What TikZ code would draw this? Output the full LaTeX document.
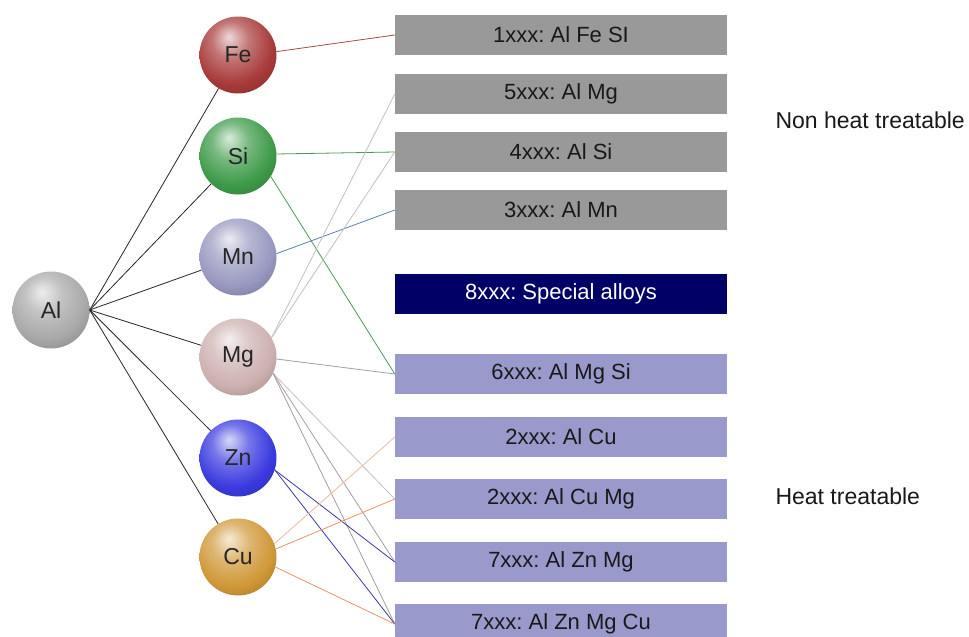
\documentclass[tikz,border=0pt]{standalone}
\usepackage{fontspec}
\setmainfont{Liberation Sans}
\frenchspacing
\definecolor{nonht}{HTML}{999999}
\definecolor{htbox}{HTML}{9999CC}
\definecolor{navybox}{HTML}{000066}
\definecolor{cAl}{HTML}{A8A8A8}
\definecolor{cFe}{HTML}{A83A3A}
\definecolor{cSi}{HTML}{3E9A4A}
\definecolor{cMn}{HTML}{9898C0}
\definecolor{cMg}{HTML}{CDB0B0}
\definecolor{cZn}{HTML}{3A3AE0}
\definecolor{cCu}{HTML}{D09838}
\definecolor{lFe}{HTML}{B04848}
\definecolor{lSi}{HTML}{4C9A58}
\definecolor{lMn}{HTML}{5A82A8}
\definecolor{lMgA}{HTML}{C8BEC0}
\definecolor{lMgB}{HTML}{A89CA0}
\definecolor{lZn}{HTML}{3A3AA8}
\definecolor{lCuA}{HTML}{E8BCA0}
\definecolor{lCu}{HTML}{E8946A}
\makeatletter
\pgfdeclareradialshading[tikz@ball]{softball}{\pgfqpoint{-6bp}{12bp}}{%
  color(0bp)=(tikz@ball!20!white);
  color(12bp)=(tikz@ball!70!white);
  color(26bp)=(tikz@ball);
  color(40bp)=(tikz@ball!75!black);
  color(52bp)=(tikz@ball!35!black);
  color(64bp)=(tikz@ball!20!black)}
\makeatother
\begin{document}
\begin{tikzpicture}[x=1pt,y=-1pt,
  sphere/.style={circle,minimum size=77pt,inner sep=0pt,ball color=#1,shading=softball,
    font=\fontsize{23}{26}\selectfont,text=black!85},
  alloy/.style={rectangle,minimum width=332pt,minimum height=40pt,inner sep=0pt,
    fill=#1,font=\fontsize{22}{26}\selectfont,text=black!90},
  conn/.style={line width=0.8pt},
  note/.style={font=\fontsize{23}{26}\selectfont,text=black!90,anchor=west}]
\clip (0,0) rectangle (969,637);
\fill[white] (0,0) rectangle (969,637);
% alloy boxes
\node[alloy=nonht] (b1) at (561,35) {1xxx: Al Fe SI};
\node[alloy=nonht] (b5) at (561,94) {5xxx: Al Mg};
\node[alloy=nonht] (b4) at (561,152) {4xxx: Al Si};
\node[alloy=nonht] (b3) at (561,210) {3xxx: Al Mn};
\node[alloy=navybox,text=white] (b8) at (561,294) {8xxx: Special alloys};
\node[alloy=htbox] (b6) at (561,374) {6xxx: Al Mg Si};
\node[alloy=htbox] (b2a) at (561,437) {2xxx: Al Cu};
\node[alloy=htbox] (b2b) at (561,499) {2xxx: Al Cu Mg};
\node[alloy=htbox] (b7a) at (561,562) {7xxx: Al Zn Mg};
\node[alloy=htbox] (b7b) at (561,624) {\raisebox{3pt}{7xxx: Al Zn Mg Cu}};
% notes
\node[note] (nh) at (772,120) {Non heat treatable};
\node[note] (ht) at (772,496) {Heat treatable};
% element spheres
\node[sphere=cAl] (Al) at (51,310) {Al};
\node[sphere=cFe] (Fe) at (238,55) {Fe};
\node[sphere=cSi] (Si) at (238,156) {Si};
\node[sphere=cMn] (Mn) at (238,257) {Mn};
\node[sphere=cMg] (Mg) at (238,357) {Mg};
\node[sphere=cZn] (Zn) at (238,458) {Zn};
\node[sphere=cCu] (Cu) at (238,557) {Cu};
% connectors
\foreach \e in {Fe,Si,Mn,Mg,Zn,Cu}{
  \draw[conn,black!85] (Al.east) -- (\e);
}
\draw[conn,lFe] (Fe.5) -- (b1.west);
\draw[conn,lSi] (Si.3) -- (b4.west);
\draw[conn,lSi] (Si.-32) -- (b6.west);
\draw[conn,lMn] (Mn.5) -- (b3.west);
\draw[conn,lMgA] (Mg.30) -- (b5.west);
\draw[conn,lMgA] (Mg.30) -- (b4.west);
\draw[conn,lMgB] (Mg.-3) -- (b6.west);
\draw[conn,lMgA] (Mg.-25) -- (b2b.west);
\draw[conn,lMgB] (Mg.-25) -- (b7a.west);
\draw[conn,lMgB] (Mg.-25) -- (b7b.west);
\draw[conn,lZn] (Zn.-18) -- (b7a.west);
\draw[conn,lZn] (Zn.-18) -- (b7b.west);
\draw[conn,lCuA] (Cu.20) -- (b2a.west);
\draw[conn,lCu] (Cu.12) -- (b2b.west);
\draw[conn,lCu] (Cu.-15) -- (b7b.west);
\end{tikzpicture}
\end{document}
